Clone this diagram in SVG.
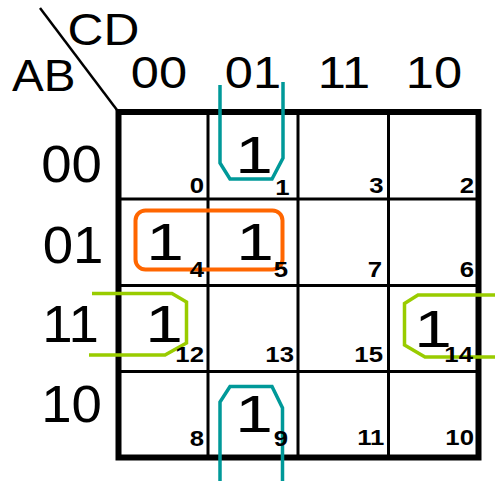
<svg xmlns="http://www.w3.org/2000/svg" width="495" height="481" viewBox="0 0 495 481">
<style>
.hd{font-family:"Liberation Sans",Arial,sans-serif;font-size:44px;fill:#000}
.rl{font-family:"Liberation Sans",Arial,sans-serif;font-size:52px;fill:#000;text-anchor:middle}
.idx{font-family:"Liberation Sans",Arial,sans-serif;font-size:23px;font-weight:bold;fill:#000;text-anchor:end}
.grid{fill:none;stroke:#000;stroke-width:3}
.loop{fill:none;stroke-width:3.5;stroke-linejoin:miter}
</style>
<rect width="495" height="481" fill="#fff"/>
<g id="headers">
<line x1="40" y1="8" x2="118.5" y2="112" stroke="#000" stroke-width="2.5"/>
<text class="hd" transform="translate(67.5,45) scale(1.13,1)">CD</text>
<text class="hd" transform="translate(12,91) scale(1.08,1)">AB</text>
<text class="hd" text-anchor="middle" transform="translate(159,88) scale(1.15,1)">00</text>
<text class="hd" text-anchor="middle" transform="translate(253,88) scale(1.15,1)">01</text>
<text class="hd" text-anchor="middle" transform="translate(344,88) scale(1.15,1)">11</text>
<text class="hd" text-anchor="middle" transform="translate(434,88) scale(1.15,1)">10</text>
<text class="rl" transform="translate(71.5,182) scale(1.05,1)">00</text>
<text class="rl" transform="translate(73,263) scale(1.05,1)">01</text>
<text class="rl" transform="translate(70.5,342) scale(1.05,1)">11</text>
<text class="rl" transform="translate(71.5,422) scale(1.05,1)">10</text>
</g>
<g id="grid">
<line class="grid" x1="208" y1="112" x2="208" y2="457.5"/>
<line class="grid" x1="298" y1="112" x2="298" y2="457.5"/>
<line class="grid" x1="388.5" y1="112" x2="388.5" y2="457.5"/>
<line class="grid" x1="118.5" y1="199" x2="478.5" y2="199"/>
<line class="grid" x1="118.5" y1="285.5" x2="478.5" y2="285.5"/>
<line class="grid" x1="118.5" y1="371.5" x2="478.5" y2="371.5"/>
<rect x="118.5" y="112" width="360" height="345.5" fill="none" stroke="#000" stroke-width="6"/>
</g>
<g id="connectors">
<path id="loop-teal-top" class="loop" stroke="#009999" d="M220,85 V163 L230,179 H272 L283,158 V82"/>
<path id="loop-teal-bottom" class="loop" stroke="#009999" d="M220,481 V402 L230,386.5 H272 L282.5,408 V481"/>
<rect id="loop-orange" x="135.5" y="210.5" width="147" height="59" rx="10" fill="none" stroke="#FF6600" stroke-width="4"/>
<path id="loop-green-left" class="loop" stroke="#99CC00" d="M92,293.5 H172 L186.5,302 V343 L165,355 H89"/>
<path id="loop-green-right" class="loop" stroke="#99CC00" d="M495,295 H418 L404.5,303.5 V345 L425,357 H495"/>
</g>
<g id="cells">
<g id="m0"><text class="idx" transform="translate(204,193) scale(1.12,1)">0</text></g>
<g id="m1"><text class="rl" transform="translate(254,173) scale(1.3,1)">1</text><text class="idx" transform="translate(289.5,195) scale(1.12,1)">1</text></g>
<g id="m3"><text class="idx" transform="translate(383.5,193) scale(1.12,1)">3</text></g>
<g id="m2"><text class="idx" transform="translate(474,193) scale(1.12,1)">2</text></g>
<g id="m4"><text class="rl" transform="translate(165,260) scale(1.3,1)">1</text><text class="idx" transform="translate(204,277) scale(1.12,1)">4</text></g>
<g id="m5"><text class="rl" transform="translate(255,260) scale(1.3,1)">1</text><text class="idx" transform="translate(288,277) scale(1.12,1)">5</text></g>
<g id="m7"><text class="idx" transform="translate(382,277) scale(1.12,1)">7</text></g>
<g id="m6"><text class="idx" transform="translate(474,277) scale(1.12,1)">6</text></g>
<g id="m12"><text class="rl" transform="translate(164,342) scale(1.3,1)">1</text><text class="idx" transform="translate(204,362) scale(1.12,1)">12</text></g>
<g id="m13"><text class="idx" transform="translate(294,362) scale(1.12,1)">13</text></g>
<g id="m15"><text class="idx" transform="translate(383,362) scale(1.12,1)">15</text></g>
<g id="m14"><text class="rl" transform="translate(433,347) scale(1.3,1)">1</text><text class="idx" transform="translate(473,362) scale(1.12,1)">14</text></g>
<g id="m8"><text class="idx" transform="translate(204,446) scale(1.12,1)">8</text></g>
<g id="m9"><text class="rl" transform="translate(254,432) scale(1.3,1)">1</text><text class="idx" transform="translate(288,446) scale(1.12,1)">9</text></g>
<g id="m11"><text class="idx" transform="translate(384.4,445) scale(1.12,1)">11</text></g>
<g id="m10"><text class="idx" transform="translate(474,445) scale(1.12,1)">10</text></g>
</g>
</svg>
